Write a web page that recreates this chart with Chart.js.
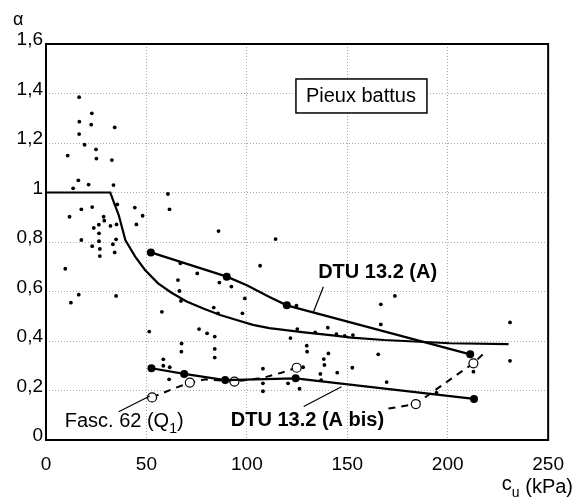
<!DOCTYPE html>
<html lang="fr">
<head>
    <meta charset="UTF-8">
    <title>Pieux battus - alpha</title>
    <script src="https://cdn.jsdelivr.net/npm/chart.js"></script>
    <style>
        html, body { margin: 0; padding: 0; background: #fff; }
        #wrap { width: 577px; height: 499px; }
    </style>
</head>
<body>
    <div id="wrap"><canvas id="alphaChart" width="577" height="499"></canvas></div>

    <script>
        // essais (points)
        const essaisCu = [16.5, 22.8, 16.6, 22.5, 34.2, 16.5, 19.2, 24.9, 10.8, 25.1, 32.8, 16.1, 21.2, 33.6, 13.5,
            35.5, 17.6, 23.0, 44.2, 11.7, 28.7, 29.0, 48.1, 26.3, 23.8, 32.1, 35.1, 45.0, 26.4, 17.6, 26.4, 34.9,
            23.0, 33.3, 26.8, 34.2, 26.8, 9.6, 16.3, 34.9, 12.4, 60.7, 61.5, 57.7, 65.7, 66.4, 67.2, 66.9, 85.9,
            114.3, 106.6, 75.3, 86.3, 92.3, 99.0, 83.5, 85.6, 97.8, 124.7, 166.7, 166.7, 76.2, 125.1, 140.3, 173.7,
            231.0, 134.0, 51.4, 80.2, 84.0, 121.7, 67.5, 67.4, 84.0, 84.0, 129.8, 130.0, 140.6, 138.3, 138.6, 58.4,
            58.4, 61.6, 61.3, 108.0, 108.0, 128.0, 136.6, 137.0, 120.5, 126.2, 108.0, 144.6, 148.7, 152.8, 145.0,
            152.5, 165.4, 169.6, 194.4, 212.8, 231.0];
        const essaisAlpha = [1.385, 1.32, 1.286, 1.274, 1.263, 1.236, 1.193, 1.174, 1.149, 1.137, 1.131, 1.049, 1.032, 1.030, 1.017,
            0.952, 0.932, 0.941, 0.939, 0.902, 0.902, 0.886, 0.906, 0.870, 0.857, 0.865, 0.871, 0.871, 0.835, 0.808, 0.803, 0.811,
            0.783, 0.791, 0.772, 0.758, 0.743, 0.692, 0.587, 0.582, 0.555, 0.994, 0.932, 0.518, 0.646, 0.602, 0.562, 0.714, 0.844,
            0.812, 0.704, 0.673, 0.636, 0.620, 0.572, 0.535, 0.512, 0.512, 0.543, 0.548, 0.467, 0.448, 0.448, 0.454, 0.582,
            0.475, 0.435, 0.438, 0.431, 0.418, 0.412, 0.390, 0.357, 0.368, 0.333, 0.381, 0.357, 0.350, 0.327, 0.303, 0.326,
            0.300, 0.294, 0.245, 0.288, 0.229, 0.294, 0.267, 0.242, 0.229, 0.207, 0.197, 0.428, 0.421, 0.424, 0.272,
            0.292, 0.346, 0.234, 0.191, 0.276, 0.320];

        // courbe continue
        const courbeCu = [0, 32, 33.8, 36.2, 39.5, 44.4, 49.3, 55.8, 62.3, 70, 78.6, 86.7, 94.9, 103, 111.2, 127.5, 143.8, 152, 168.3, 201, 230.3];
        const courbeAlpha = [1, 1, 0.96, 0.909, 0.808, 0.741, 0.687, 0.633, 0.596, 0.56, 0.53, 0.505, 0.485, 0.465, 0.452, 0.436, 0.422, 0.414, 0.404, 0.391, 0.387];

        // DTU 13.2 (A)
        const dtuACu = [52.2, 90, 100, 111, 119.9, 211.2];
        const dtuAAlpha = [0.758, 0.66, 0.625, 0.579, 0.544, 0.346];
        const dtuAMarks = [5, 5, 0, 0, 5, 5];

        // DTU 13.2 (A bis)
        const dtuABisCu = [52.5, 68.8, 89.2, 124.3, 213.1];
        const dtuABisAlpha = [0.29, 0.267, 0.242, 0.249, 0.166];

        // Fasc. 62 (Q1)
        const fascCu = [52.8, 63.9, 71.6, 79.4, 93.8, 102.2, 108.8, 117.2, 124.8];
        const fascAlpha = [0.172, 0.209, 0.232, 0.245, 0.236, 0.245, 0.253, 0.272, 0.292];
        const fascCu2 = [170.5, 184.1, 198.5, 212.8, 218];
        const fascAlpha2 = [0.127, 0.145, 0.229, 0.31, 0.35];
        const fascCircles = [1, 0, 1, 0, 1, 0, 0, 0, 1];
        const fascCircles2 = [0, 1, 0, 1, 0];

        const xTicks = ['0', '50', '100', '150', '200', '250'];
        const yTicks = ['0', '0,2', '0,4', '0,6', '0,8', '1', '1,2', '1,4', '1,6'];

        const pts = (xs, ys) => xs.map((x, i) => ({ x: x, y: ys[i] }));
        const FONT = '"Liberation Sans", Arial, sans-serif';

        const decor = {
            id: 'decor',
            afterDatasetsDraw(chart) {
                const { ctx, chartArea: a, scales: { x, y } } = chart;
                ctx.save();
                ctx.strokeStyle = '#000';
                ctx.lineWidth = 2;
                ctx.strokeRect(a.left, a.top, a.right - a.left, a.bottom - a.top);

                // traits de rappel
                ctx.lineWidth = 1.2;
                const lead = (x1, y1, x2, y2) => {
                    ctx.beginPath();
                    ctx.moveTo(x.getPixelForValue(x1), y.getPixelForValue(y1));
                    ctx.lineTo(x.getPixelForValue(x2), y.getPixelForValue(y2));
                    ctx.stroke();
                };
                lead(133.2, 0.518, 138.1, 0.619);
                lead(128.3, 0.135, 147.1, 0.215);
                lead(36.2, 0.114, 51.7, 0.178);

                ctx.fillStyle = '#000';
                ctx.textBaseline = 'middle';

                // Pieux battus
                const bx = x.getPixelForValue(156.8), by = y.getPixelForValue(1.39);
                ctx.font = '20px ' + FONT;
                ctx.fillStyle = '#fff';
                ctx.fillRect(bx - 65, by - 17, 131, 34);
                ctx.fillStyle = '#000';
                ctx.lineWidth = 1.5;
                ctx.strokeRect(bx - 65, by - 17, 131, 34);
                ctx.textAlign = 'center';
                ctx.fillText('Pieux battus', bx, by + 1);

                ctx.textAlign = 'left';
                ctx.font = 'bold 20px ' + FONT;
                ctx.fillText('DTU 13.2 (A)', x.getPixelForValue(135.5), y.getPixelForValue(0.675));
                ctx.fillText('DTU 13.2 (A bis)', x.getPixelForValue(92), y.getPixelForValue(0.077));

                ctx.font = '20px ' + FONT;
                let fx = x.getPixelForValue(9.3);
                const fy = y.getPixelForValue(0.073);
                ctx.fillText('Fasc. 62 (Q', fx, fy);
                fx += ctx.measureText('Fasc. 62 (Q').width;
                ctx.font = '14px ' + FONT;
                ctx.fillText('1', fx, fy + 7);
                fx += ctx.measureText('1').width;
                ctx.font = '20px ' + FONT;
                ctx.fillText(')', fx, fy);

                // titres d'axes
                ctx.font = '18px ' + FONT;
                ctx.fillText('\u03b1', 13, 20);
                ctx.font = '20px ' + FONT;
                ctx.textAlign = 'right';
                ctx.textBaseline = 'alphabetic';
                ctx.fillText('(kPa)', 573, 493);
                const kw = ctx.measureText('(kPa) ').width;
                ctx.font = '14px ' + FONT;
                ctx.fillText('u', 573 - kw, 497);
                const uw = ctx.measureText('u').width;
                ctx.font = '20px ' + FONT;
                ctx.fillText('c', 573 - kw - uw, 490);
                ctx.restore();
            }
        };

        const ctx = document.getElementById('alphaChart').getContext('2d');
        new Chart(ctx, {
            type: 'scatter',
            data: {
                datasets: [
                    {
                        data: pts(courbeCu, courbeAlpha), showLine: true, borderColor: '#000', borderWidth: 2.2,
                        pointRadius: 0, tension: 0, order: 1
                    },
                    {
                        data: pts(dtuACu, dtuAAlpha), showLine: true, borderColor: '#000', backgroundColor: '#000',
                        borderWidth: 2.2, pointRadius: dtuAMarks.map(v => v * 0.8), pointBorderWidth: 0, tension: 0, order: 1
                    },
                    {
                        data: pts(dtuABisCu, dtuABisAlpha), showLine: true, borderColor: '#000', backgroundColor: '#000',
                        borderWidth: 2.2, pointRadius: 4, pointBorderWidth: 0, tension: 0, order: 1
                    },
                    {
                        data: pts(fascCu, fascAlpha), showLine: true, borderColor: '#000', backgroundColor: '#fff',
                        borderWidth: 2, borderDash: [7, 6], pointRadius: fascCircles.map(v => v * 4.5),
                        pointBorderWidth: 1.2, tension: 0, order: 1
                    },
                    {
                        data: pts(fascCu2, fascAlpha2), showLine: true, borderColor: '#000', backgroundColor: '#fff',
                        borderWidth: 2, borderDash: [7, 6], pointRadius: fascCircles2.map(v => v * 4.5),
                        pointBorderWidth: 1.2, tension: 0, order: 1
                    },
                    {
                        data: pts(essaisCu, essaisAlpha), backgroundColor: '#000', borderWidth: 0,
                        pointRadius: 1.9, order: 2
                    }
                ]
            },
            options: {
                responsive: false,
                animation: false,
                layout: { padding: { top: 44, right: 20, left: 0, bottom: 0 } },
                plugins: { legend: { display: false }, tooltip: { enabled: false } },
                scales: {
                    x: {
                        type: 'linear', min: 0, max: 250,
                        afterFit: s => { s.height = 59; },
                        grid: { color: '#aaa', lineWidth: 1, drawTicks: false },
                        border: { display: false, dash: [1, 2] },
                        ticks: {
                            stepSize: 50, padding: 13, color: '#000',
                            font: { family: FONT, size: 19 },
                            callback: (v, i) => xTicks[i]
                        }
                    },
                    y: {
                        type: 'linear', min: 0, max: 1.6,
                        afterFit: s => { s.width = 46; },
                        grid: { color: '#aaa', lineWidth: 1, drawTicks: false },
                        border: { display: false, dash: [1, 2] },
                        ticks: {
                            stepSize: 0.2, padding: 3, labelOffset: -4, color: '#000',
                            font: { family: FONT, size: 19 },
                            callback: (v, i) => yTicks[i]
                        }
                    }
                }
            },
            plugins: [decor]
        });
    </script>
</body>
</html>
